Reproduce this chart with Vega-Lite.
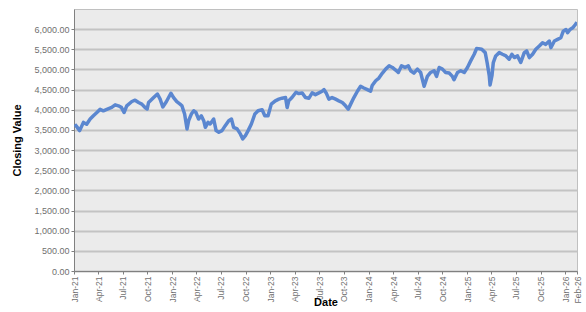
{
  "$schema": "https://vega.github.io/schema/vega-lite/v6.json",
  "width": 503,
  "height": 262,
  "autosize": "none",
  "padding": {"left": 74, "top": 9, "right": 9, "bottom": 41},
  "background": "white",
  "config": {
    "font": "Liberation Sans",
    "view": {"fill": "#EBEBEB", "stroke": "#C0C0C0", "strokeWidth": 1}
  },
  "data": {"values": [
    {"date": "2021-01-04", "value": 3640}, {"date": "2021-01-09", "value": 3600}, {"date": "2021-01-22", "value": 3483},
    {"date": "2021-02-05", "value": 3687}, {"date": "2021-02-17", "value": 3640}, {"date": "2021-03-02", "value": 3770},
    {"date": "2021-03-14", "value": 3852}, {"date": "2021-03-27", "value": 3933}, {"date": "2021-04-08", "value": 4010},
    {"date": "2021-04-20", "value": 3975}, {"date": "2021-05-03", "value": 4010}, {"date": "2021-05-21", "value": 4057},
    {"date": "2021-06-03", "value": 4123}, {"date": "2021-06-15", "value": 4098}, {"date": "2021-06-26", "value": 4060},
    {"date": "2021-07-06", "value": 3933}, {"date": "2021-07-16", "value": 4098}, {"date": "2021-08-04", "value": 4205},
    {"date": "2021-08-16", "value": 4238}, {"date": "2021-08-29", "value": 4180}, {"date": "2021-09-10", "value": 4140},
    {"date": "2021-09-22", "value": 4057}, {"date": "2021-09-30", "value": 4020}, {"date": "2021-10-05", "value": 4180},
    {"date": "2021-10-24", "value": 4303}, {"date": "2021-11-07", "value": 4390}, {"date": "2021-11-17", "value": 4263},
    {"date": "2021-11-27", "value": 4070}, {"date": "2021-12-10", "value": 4200}, {"date": "2021-12-27", "value": 4410},
    {"date": "2022-01-06", "value": 4300}, {"date": "2022-01-18", "value": 4200}, {"date": "2022-01-30", "value": 4140},
    {"date": "2022-02-06", "value": 4098}, {"date": "2022-02-16", "value": 3894}, {"date": "2022-02-25", "value": 3525},
    {"date": "2022-03-03", "value": 3729}, {"date": "2022-03-13", "value": 3894}, {"date": "2022-03-22", "value": 3975},
    {"date": "2022-03-30", "value": 3933}, {"date": "2022-04-09", "value": 3770}, {"date": "2022-04-19", "value": 3852},
    {"date": "2022-04-28", "value": 3729}, {"date": "2022-05-04", "value": 3565}, {"date": "2022-05-14", "value": 3688},
    {"date": "2022-05-22", "value": 3647}, {"date": "2022-06-04", "value": 3770}, {"date": "2022-06-13", "value": 3483},
    {"date": "2022-06-23", "value": 3442}, {"date": "2022-07-05", "value": 3483}, {"date": "2022-07-17", "value": 3606},
    {"date": "2022-07-30", "value": 3729}, {"date": "2022-08-09", "value": 3770}, {"date": "2022-08-17", "value": 3565},
    {"date": "2022-08-30", "value": 3525}, {"date": "2022-09-11", "value": 3401}, {"date": "2022-09-20", "value": 3278},
    {"date": "2022-09-30", "value": 3360}, {"date": "2022-10-10", "value": 3483}, {"date": "2022-10-22", "value": 3647},
    {"date": "2022-11-04", "value": 3894}, {"date": "2022-11-16", "value": 3975}, {"date": "2022-12-01", "value": 4000},
    {"date": "2022-12-11", "value": 3852}, {"date": "2022-12-23", "value": 3852}, {"date": "2023-01-04", "value": 4140},
    {"date": "2023-01-19", "value": 4222}, {"date": "2023-02-01", "value": 4263}, {"date": "2023-02-13", "value": 4288},
    {"date": "2023-02-26", "value": 4303}, {"date": "2023-03-04", "value": 4057}, {"date": "2023-03-10", "value": 4222},
    {"date": "2023-03-22", "value": 4303}, {"date": "2023-04-06", "value": 4434}, {"date": "2023-04-16", "value": 4402},
    {"date": "2023-04-29", "value": 4418}, {"date": "2023-05-11", "value": 4303}, {"date": "2023-05-24", "value": 4288},
    {"date": "2023-06-05", "value": 4418}, {"date": "2023-06-17", "value": 4376}, {"date": "2023-06-30", "value": 4418},
    {"date": "2023-07-12", "value": 4459}, {"date": "2023-07-19", "value": 4500}, {"date": "2023-07-27", "value": 4418},
    {"date": "2023-08-06", "value": 4263}, {"date": "2023-08-18", "value": 4303}, {"date": "2023-08-31", "value": 4263},
    {"date": "2023-09-12", "value": 4222}, {"date": "2023-09-25", "value": 4180}, {"date": "2023-10-07", "value": 4098},
    {"date": "2023-10-17", "value": 4016}, {"date": "2023-10-26", "value": 4140}, {"date": "2023-11-07", "value": 4303},
    {"date": "2023-11-20", "value": 4459}, {"date": "2023-12-02", "value": 4582}, {"date": "2023-12-14", "value": 4541},
    {"date": "2023-12-27", "value": 4500}, {"date": "2024-01-08", "value": 4459}, {"date": "2024-01-14", "value": 4600},
    {"date": "2024-01-27", "value": 4720}, {"date": "2024-02-08", "value": 4787}, {"date": "2024-02-21", "value": 4910},
    {"date": "2024-03-04", "value": 5008}, {"date": "2024-03-17", "value": 5090}, {"date": "2024-03-29", "value": 5050},
    {"date": "2024-04-10", "value": 4985}, {"date": "2024-04-20", "value": 4925}, {"date": "2024-05-02", "value": 5090},
    {"date": "2024-05-15", "value": 5050}, {"date": "2024-05-27", "value": 5090}, {"date": "2024-06-05", "value": 4967},
    {"date": "2024-06-17", "value": 4910}, {"date": "2024-06-30", "value": 5008}, {"date": "2024-07-12", "value": 4925},
    {"date": "2024-07-25", "value": 4582}, {"date": "2024-08-06", "value": 4828}, {"date": "2024-08-18", "value": 4925},
    {"date": "2024-08-31", "value": 4967}, {"date": "2024-09-09", "value": 4828}, {"date": "2024-09-19", "value": 5050},
    {"date": "2024-10-01", "value": 5008}, {"date": "2024-10-13", "value": 4925}, {"date": "2024-10-26", "value": 4910},
    {"date": "2024-11-07", "value": 4828}, {"date": "2024-11-13", "value": 4746}, {"date": "2024-11-26", "value": 4925},
    {"date": "2024-12-08", "value": 4967}, {"date": "2024-12-21", "value": 4925}, {"date": "2025-01-02", "value": 5050},
    {"date": "2025-01-14", "value": 5213}, {"date": "2025-01-27", "value": 5377}, {"date": "2025-02-05", "value": 5520},
    {"date": "2025-02-12", "value": 5517}, {"date": "2025-02-24", "value": 5500}, {"date": "2025-03-09", "value": 5418},
    {"date": "2025-03-16", "value": 5172}, {"date": "2025-03-24", "value": 4844}, {"date": "2025-03-27", "value": 4615},
    {"date": "2025-04-03", "value": 4844}, {"date": "2025-04-08", "value": 5172}, {"date": "2025-04-17", "value": 5336},
    {"date": "2025-04-30", "value": 5418}, {"date": "2025-05-12", "value": 5377}, {"date": "2025-05-25", "value": 5336},
    {"date": "2025-06-06", "value": 5254}, {"date": "2025-06-16", "value": 5377}, {"date": "2025-06-25", "value": 5295},
    {"date": "2025-07-07", "value": 5336}, {"date": "2025-07-19", "value": 5172}, {"date": "2025-08-01", "value": 5418},
    {"date": "2025-08-10", "value": 5459}, {"date": "2025-08-20", "value": 5295}, {"date": "2025-09-01", "value": 5377},
    {"date": "2025-09-13", "value": 5500}, {"date": "2025-09-26", "value": 5582}, {"date": "2025-10-08", "value": 5664},
    {"date": "2025-10-20", "value": 5623}, {"date": "2025-11-02", "value": 5705}, {"date": "2025-11-08", "value": 5541},
    {"date": "2025-11-21", "value": 5705}, {"date": "2025-12-03", "value": 5746}, {"date": "2025-12-15", "value": 5787},
    {"date": "2025-12-24", "value": 5951}, {"date": "2026-01-03", "value": 5992}, {"date": "2026-01-09", "value": 5910},
    {"date": "2026-01-18", "value": 5992}, {"date": "2026-01-28", "value": 6033}, {"date": "2026-02-07", "value": 6115},
    {"date": "2026-02-13", "value": 6172}
  ]},
  "mark": {"type": "line", "color": "#5B87D0", "strokeWidth": 3.5, "strokeJoin": "round", "clip": true},
  "encoding": {
    "x": {
      "field": "date",
      "type": "temporal",
      "scale": {"type": "utc", "domain": [
        {"year": 2021, "month": 1, "date": 1, "utc": true},
        {"year": 2026, "month": 2, "date": 13, "utc": true}
      ]},
      "axis": {
        "title": "Date",
        "labelExpr": "utcFormat(datum.value, '%b-%y')",
        "values": [
          {"year": 2021, "month": 1, "date": 1, "utc": true}, {"year": 2021, "month": 4, "date": 1, "utc": true},
          {"year": 2021, "month": 7, "date": 1, "utc": true}, {"year": 2021, "month": 10, "date": 1, "utc": true},
          {"year": 2022, "month": 1, "date": 1, "utc": true}, {"year": 2022, "month": 4, "date": 1, "utc": true},
          {"year": 2022, "month": 7, "date": 1, "utc": true}, {"year": 2022, "month": 10, "date": 1, "utc": true},
          {"year": 2023, "month": 1, "date": 1, "utc": true}, {"year": 2023, "month": 4, "date": 1, "utc": true},
          {"year": 2023, "month": 7, "date": 1, "utc": true}, {"year": 2023, "month": 10, "date": 1, "utc": true},
          {"year": 2024, "month": 1, "date": 1, "utc": true}, {"year": 2024, "month": 4, "date": 1, "utc": true},
          {"year": 2024, "month": 7, "date": 1, "utc": true}, {"year": 2024, "month": 10, "date": 1, "utc": true},
          {"year": 2025, "month": 1, "date": 1, "utc": true}, {"year": 2025, "month": 4, "date": 1, "utc": true},
          {"year": 2025, "month": 7, "date": 1, "utc": true}, {"year": 2025, "month": 10, "date": 1, "utc": true},
          {"year": 2026, "month": 1, "date": 1, "utc": true}, {"year": 2026, "month": 2, "date": 13, "utc": true}
        ],
        "labelAngle": -90,
        "labelFontSize": 8.5,
        "labelColor": "#6F6F6F",
        "labelPadding": 2,
        "labelOverlap": false,
        "labelFlush": false,
        "tickSize": 3,
        "tickColor": "#808080",
        "domainColor": "#808080",
        "grid": false,
        "titleFontSize": 11,
        "titleFontWeight": "bold",
        "titleColor": "#000000",
        "titleBaseline": "middle",
        "titleY": 31
      }
    },
    "y": {
      "field": "value",
      "type": "quantitative",
      "scale": {"domain": [0, 6500], "nice": false, "zero": true},
      "axis": {
        "title": "Closing Value",
        "values": [0, 500, 1000, 1500, 2000, 2500, 3000, 3500, 4000, 4500, 5000, 5500, 6000],
        "format": ",.2f",
        "labelFontSize": 9,
        "labelColor": "#6F6F6F",
        "labelPadding": 2,
        "labelFlush": false,
        "tickSize": 3,
        "tickColor": "#808080",
        "domainColor": "#808080",
        "gridColor": "#C3C3C3",
        "gridWidth": 2,
        "titleFontSize": 11,
        "titleFontWeight": "bold",
        "titleColor": "#000000",
        "titleBaseline": "middle",
        "titleX": -57
      }
    }
  }
}
